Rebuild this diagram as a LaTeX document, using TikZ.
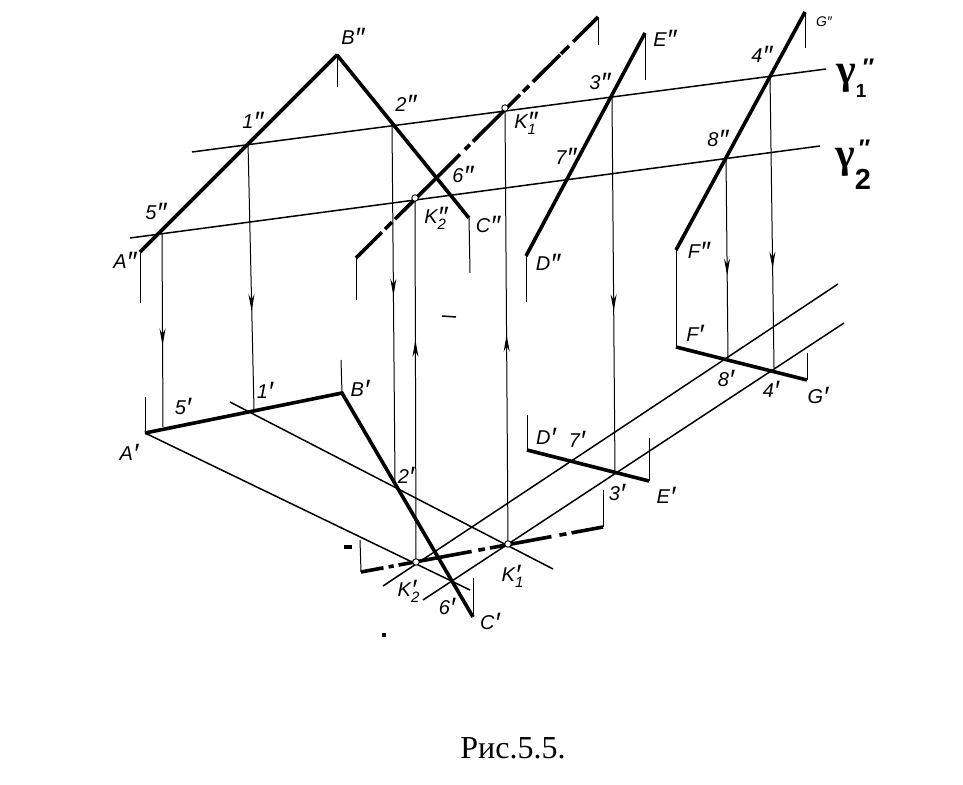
\documentclass[tikz,border=0pt]{standalone}
\usepackage{fontspec}
\setmainfont{Liberation Serif}
\newfontfamily\labelfont{Liberation Sans}
\usetikzlibrary{arrows.meta, calc, decorations.markings}
\newcommand{\onePr}{\smash{\raisebox{-3pt}{\fontsize{28}{28}\selectfont ′}}}
\newcommand{\twoPr}{\smash{\raisebox{-3pt}{\fontsize{28}{28}\selectfont ″}}}
\newcommand{\labelK}[2]{K\rlap{\smash{\raisebox{-6pt}{\fontsize{15}{15}\selectfont #1}}}#2}
\newcommand{\labelGa}[5]{γ\rlap{\hspace{#2}\smash{\raisebox{#3}{\labelfont #1}}}\smash{\raisebox{#5}{\hspace{#4}\labelfont\fontsize{24}{24}\selectfont ″}}}

\begin{document}
\begin{tikzpicture}
[x=1pt, y=-1pt,
 every node/.style={inner sep=0pt, font=\labelfont\itshape\fontsize{20}{20}\selectfont},
 lineThick/.style={line width=3.6pt},
 lineTrace/.style={line width=1.5pt},
 lineThin/.style={line width=1pt},
 lineProj/.style={line width=1pt, postaction={decorate, decoration={markings,
   mark=at position #1 with {\arrow{Stealth[length=17pt, width=6pt]}}}}},
 nodeK/.style={circle, draw, fill=white, line width=0.9pt, minimum size=6.5pt},
 nodeGamma/.style={anchor=west, font=\rmfamily\bfseries\fontsize{42}{42}\selectfont}
]
\useasboundingbox (0,0) rectangle (963,784);
% frontal projection
\coordinate (A2) at (140,252);
\coordinate (B2) at (337,55);
\coordinate (C2) at (469,218);
\coordinate (D2) at (526,256);
\coordinate (E2) at (645,33);
\coordinate (F2) at (676,250);
\coordinate (G2) at (805,12);
\coordinate (Ka2) at (356,258);
\coordinate (Kb2) at (598,17);
\coordinate (P12) at (248,143);
\coordinate (P22) at (392,124);
\coordinate (P32) at (612,97);
\coordinate (P42) at (770,76);
\coordinate (P52) at (162,233);
\coordinate (P82) at (726,157);
\coordinate (K12) at (505,108);
\coordinate (K22) at (415,198);
% horizontal projection
\coordinate (A1) at (145,433);
\coordinate (B1) at (342,393);
\coordinate (C1) at (473,617);
\coordinate (D1) at (527,450);
\coordinate (E1) at (649,481);
\coordinate (F1) at (676,347);
\coordinate (G1) at (807,380);
\coordinate (Ka1) at (361,572);
\coordinate (Kb1) at (603,527);
\coordinate (P11) at (254,410);
\coordinate (P21) at (395,482);
\coordinate (P31) at (615,473);
\coordinate (P41) at (774,368);
\coordinate (P51) at (163,427);
\coordinate (P81) at (728,358);
\coordinate (K11) at (508,544);
\coordinate (K21) at (416,562);
% planes
\draw[lineTrace] (192,152) -- (826,69);
\draw[lineTrace] (130,238) -- (820,146);
\draw[lineTrace] (230,402) -- (553,569);
\draw[lineTrace] (A1) -- (470,590);
\draw[lineTrace] (383,586) -- (838,284);
\draw[lineTrace] (423,600) -- (844,323);
% ticks
\draw[lineThin] (A2) -- (140,303);
\draw[lineThin] (B2) -- (337,87);
\draw[lineThin] (C2) -- (470,273);
\draw[lineThin] (Ka2) -- (356,300);
\draw[lineThin] (D2) -- (526,302);
\draw[lineThin] (Kb2) -- (598,45);
\draw[lineThin] (E2) -- (645,80);
\draw[lineThin] (F2) -- (F1);
\draw[lineThin] (G2) -- (805,48);
\draw[lineThin] (A1) -- (145,397);
\draw[lineThin] (B1) -- (341,360);
\draw[lineThin] (C1) -- (473,578);
\draw[lineThin] (Ka1) -- (360,540);
\draw[lineThin] (Kb1) -- (603,490);
\draw[lineThin] (D1) -- (527,415);
\draw[lineThin] (E1) -- (649,438);
\draw[lineThin] (G1) -- (807,353);
% projection lines
\draw[lineProj=.58] (P52) -- (P51);
\draw[lineProj=.63] (P12) -- (P11);
\draw[lineProj=.48] (P22) -- (P21);
\draw[lineProj=.57] (P32) -- (P31);
\draw[lineProj=.59] (P82) -- (P81);
\draw[lineProj=.66] (P42) -- (P41);
\draw[lineProj=.61] (K21) -- (K22);
\draw[lineProj=.48] (K11) -- (K12);
% thick lines
\draw[lineThick, line join=bevel] (A2) -- (B2) -- (C2);
\draw[lineThick] (D2) -- (E2);
\draw[lineThick] (F2) -- (G2);
\draw[lineThick] (A1) -- (B1) -- (C1);
\draw[lineThick] (D1) -- (E1);
\draw[lineThick] (F1) -- (G1);
\foreach \a/\b in {0/.107, .12/.149, .161/.43, .45/.47, .483/.678, .69/.715, .731/.843, .847/.88, .897/1}
  \draw[lineThick] ($(Ka2)!\a!(Kb2)$) -- ($(Ka2)!\b!(Kb2)$);
\foreach \a/\b in {0/.093, .114/.135, .155/.457, .485/.512, .533/.787, .82/.849, .87/1}
  \draw[lineThick] ($(Ka1)!\a!(Kb1)$) -- ($(Ka1)!\b!(Kb1)$);
% points
\node[nodeK] (nK12) at (K12) {};
\node[nodeK] (nK22) at (K22) {};
\node[nodeK] (nK11) at (K11) {};
\node[nodeK] (nK21) at (K21) {};
% labels
\node (lA2) at (125,262) {A\twoPr};
\node (lB2) at (353,38) {B\twoPr};
\node (lC2) at (488,226) {C\twoPr};
\node (lD2) at (548,264) {D\twoPr};
\node (lE2) at (665,40) {E\twoPr};
\node (lF2) at (699,252) {F\twoPr};
\node[font=\labelfont\itshape\fontsize{14}{14}\selectfont] (lG2) at (824,22) {G″};
\node (l12) at (253,122) {1\twoPr};
\node (l22) at (406,105) {2\twoPr};
\node (l32) at (600,83) {3\twoPr};
\node (l42) at (762,56) {4\twoPr};
\node (l52) at (156,213) {5\twoPr};
\node (l62) at (463,176) {6\twoPr};
\node (l72) at (566,158) {7\twoPr};
\node (l82) at (718,140) {8\twoPr};
\node (lK12) at (526,122) {\labelK{1}{\twoPr}};
\node (lK22) at (436,217) {\labelK{2}{\twoPr}};
\node (lA1) at (129,454) {A\onePr};
\node (lB1) at (360,390) {B\onePr};
\node (lC1) at (490,623) {C\onePr};
\node (lD1) at (546,438) {D\onePr};
\node (lE1) at (666,497) {E\onePr};
\node (lF1) at (695,335) {F\onePr};
\node (lG1) at (818,397) {G\onePr};
\node (l11) at (265,392) {1\onePr};
\node (l21) at (406,477) {2\onePr};
\node (l31) at (617,494) {3\onePr};
\node (l41) at (771,391) {4\onePr};
\node (l51) at (183,408) {5\onePr};
\node (l61) at (447,608) {6\onePr};
\node (l71) at (577,441) {7\onePr};
\node (l81) at (726,380) {8\onePr};
\node (lK11) at (511,575) {\labelK{1}{\onePr}};
\node (lK21) at (407,590) {\labelK{2}{\onePr}};
\node[nodeGamma] (lGa1) at (836,78) {\labelGa{\fontsize{19}{19}\selectfont 1}{0pt}{-14pt}{7pt}{8pt}};
\node[nodeGamma] (lGa2) at (835,162) {\labelGa{\fontsize{29}{29}\selectfont 2}{0pt}{-22pt}{4pt}{11pt}};
% specks
\draw[lineTrace] (442,316) -- (456,317);
\draw[lineThick] (344,547) -- (352,547);
\draw[lineThick] (384,633) -- (384,637);
\node[font=\rmfamily\fontsize{32}{32}\selectfont] (caption) at (513,748) {Рис.5.5.};
\end{tikzpicture}
\end{document}
